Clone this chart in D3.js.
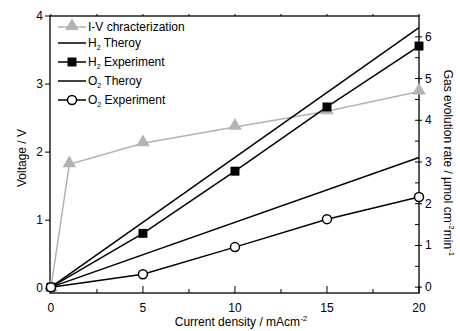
<!DOCTYPE html>
<html>
<head>
<meta charset="utf-8">
<script src="https://cdn.jsdelivr.net/npm/d3@7"></script>
<style>
  body { margin: 0; background: #fff; }
  svg { font-family: "Liberation Sans", Arial, sans-serif; }
</style>
</head>
<body>
<div id="chart"></div>
<script>
// data
var ivCurrent = [0, 1, 5, 10, 15, 20];
var ivVoltage = [0, 1.82, 2.13, 2.37, 2.6, 2.89];
var theoryCurrent = [0, 20];
var h2Theory = [0, 6.22];
var o2Theory = [0, 3.11];
var expCurrent = [0, 5, 10, 15, 20];
var h2Exp = [0, 1.29, 2.78, 4.32, 5.78];
var o2Exp = [0, 0.31, 0.96, 1.63, 2.16];
var xTicks = [0, 5, 10, 15, 20];
var leftTicks = [0, 1, 2, 3, 4];
var rightTicks = [0, 1, 2, 3, 4, 5, 6];

var width = 460, height = 331;
var plot = { left: 50, right: 419, top: 16, bottom: 293 };

var svg = d3.select("#chart").append("svg")
  .attr("width", width)
  .attr("height", height);

var x = d3.scaleLinear().domain([-0.05, 20]).range([plot.left, plot.right]);
var yL = d3.scaleLinear().domain([-0.07, 4]).range([plot.bottom, plot.top]);
var yR = d3.scaleLinear().domain([-0.14, 6.5]).range([plot.bottom, plot.top]);

var grey = "#b3b3b3";

// frame
svg.append("rect")
  .attr("x", plot.left).attr("y", plot.top)
  .attr("width", plot.right - plot.left).attr("height", plot.bottom - plot.top)
  .attr("fill", "none").attr("stroke", "#000").attr("stroke-width", 1.3);

// bottom axis (ticks inward)
var xMinor = d3.range(0, 20.01, 2.5);
svg.selectAll(".xtick").data(xMinor).enter().append("line")
  .attr("x1", d => x(d)).attr("x2", d => x(d))
  .attr("y1", plot.bottom).attr("y2", d => plot.bottom - (d % 5 === 0 ? 7 : 4))
  .attr("stroke", "#000").attr("stroke-width", 1);
svg.selectAll(".ttick").data(xMinor).enter().append("line")
  .attr("x1", d => x(d)).attr("x2", d => x(d))
  .attr("y1", plot.top).attr("y2", plot.top - 2)
  .attr("stroke", "#000").attr("stroke-width", 1);
svg.selectAll(".xlab").data(xTicks).enter().append("text")
  .attr("x", d => x(d)).attr("y", 312)
  .attr("text-anchor", "middle").attr("font-size", 12)
  .text(d => d);

// left axis
svg.selectAll(".ltick").data(leftTicks).enter().append("line")
  .attr("x1", plot.left - 5).attr("x2", plot.left)
  .attr("y1", d => yL(d)).attr("y2", d => yL(d))
  .attr("stroke", "#000").attr("stroke-width", 1);
svg.selectAll(".llab").data(leftTicks).enter().append("text")
  .attr("x", plot.left - 7).attr("y", d => yL(d) + 4)
  .attr("text-anchor", "end").attr("font-size", 12)
  .text(d => d);

// right axis
var rMinor = d3.range(0, 6.01, 0.5);
svg.selectAll(".rtick").data(rMinor).enter().append("line")
  .attr("x1", plot.right - 4)
  .attr("x2", d => d % 1 === 0 ? plot.right + 3 : plot.right)
  .attr("y1", d => yR(d)).attr("y2", d => yR(d))
  .attr("stroke", "#000").attr("stroke-width", 1);
svg.selectAll(".rlab").data(rightTicks).enter().append("text")
  .attr("x", plot.right + 6).attr("y", d => yR(d) + 4)
  .attr("font-size", 12)
  .text(d => d);

// axis titles
svg.append("text")
  .attr("transform", "translate(26,158) rotate(-90)")
  .attr("text-anchor", "middle").attr("font-size", 12)
  .text("Voltage / V");

var rt = svg.append("text")
  .attr("transform", "translate(444,163) rotate(90)")
  .attr("text-anchor", "middle").attr("font-size", 12);
rt.append("tspan").text("Gas evolution rate / \u00b5mol cm");
rt.append("tspan").attr("font-size", 8).attr("dy", -5).text("-2");
rt.append("tspan").attr("font-size", 12).attr("dy", 5).text("min");
rt.append("tspan").attr("font-size", 8).attr("dy", -5).text("-1");

var xt = svg.append("text")
  .attr("x", 241).attr("y", 326)
  .attr("text-anchor", "middle").attr("font-size", 12);
xt.append("tspan").text("Current density / mAcm");
xt.append("tspan").attr("font-size", 8).attr("dy", -5).text("-2");

// series
var lineIV = d3.line().x(d => x(d[0])).y(d => yL(d[1]));
var lineR = d3.line().x(d => x(d[0])).y(d => yR(d[1]));
var tri = d3.symbol().type(d3.symbolTriangle).size(80);
var sq = d3.symbol().type(d3.symbolSquare).size(80);

var ivData = d3.zip(ivCurrent, ivVoltage);
svg.append("path").datum(ivData).attr("d", lineIV)
  .attr("fill", "none").attr("stroke", grey).attr("stroke-width", 1.5);
svg.selectAll(".iv").data(ivData).enter().append("path")
  .attr("d", tri)
  .attr("transform", d => "translate(" + x(d[0]) + "," + (yL(d[1]) - 1) + ")")
  .attr("fill", grey);

svg.append("path").datum(d3.zip(theoryCurrent, h2Theory)).attr("d", lineR)
  .attr("fill", "none").attr("stroke", "#000").attr("stroke-width", 1.5);

var h2Data = d3.zip(expCurrent, h2Exp);
svg.append("path").datum(h2Data).attr("d", lineR)
  .attr("fill", "none").attr("stroke", "#000").attr("stroke-width", 1.5);
svg.selectAll(".h2").data(h2Data).enter().append("path")
  .attr("d", sq)
  .attr("transform", d => "translate(" + x(d[0]) + "," + yR(d[1]) + ")")
  .attr("fill", "#000");

svg.append("path").datum(d3.zip(theoryCurrent, o2Theory)).attr("d", lineR)
  .attr("fill", "none").attr("stroke", "#000").attr("stroke-width", 1.5);

var o2Data = d3.zip(expCurrent, o2Exp);
svg.append("path").datum(o2Data).attr("d", lineR)
  .attr("fill", "none").attr("stroke", "#000").attr("stroke-width", 1.5);
svg.selectAll(".o2").data(o2Data).enter().append("circle")
  .attr("cx", d => x(d[0])).attr("cy", d => yR(d[1])).attr("r", 4.5)
  .attr("fill", "#fff").attr("stroke", "#000").attr("stroke-width", 1.5);

// legend
var legendItems = [
  { label: "I-V chracterization", sub: null, rest: "", color: grey, marker: "tri" },
  { label: "H", sub: "2", rest: " Theroy", color: "#000", marker: null },
  { label: "H", sub: "2", rest: " Experiment", color: "#000", marker: "sq" },
  { label: "O", sub: "2", rest: " Theroy", color: "#000", marker: null },
  { label: "O", sub: "2", rest: " Experiment", color: "#000", marker: "circ" }
];
var legendY = [27, 43, 62, 81, 100];
var lg = svg.selectAll(".leg").data(legendItems).enter().append("g")
  .attr("transform", (d, i) => "translate(58," + legendY[i] + ")");
lg.append("line").attr("x1", 0).attr("x2", 28)
  .attr("stroke", d => d.color).attr("stroke-width", 1.5);
lg.filter(d => d.marker === "tri").append("path")
  .attr("d", tri).attr("transform", "translate(14,-1)").attr("fill", grey);
lg.filter(d => d.marker === "sq").append("path")
  .attr("d", sq).attr("transform", "translate(14,0)").attr("fill", "#000");
lg.filter(d => d.marker === "circ").append("circle")
  .attr("cx", 14).attr("r", 4.5).attr("fill", "#fff")
  .attr("stroke", "#000").attr("stroke-width", 1.5);
var lt = lg.append("text").attr("x", 30).attr("y", 4).attr("font-size", 12);
lt.append("tspan").text(d => d.label);
lt.filter(d => d.sub).append("tspan").attr("font-size", 7).attr("dy", 3).text(d => d.sub);
lt.filter(d => d.sub).append("tspan").attr("dy", -3).text(d => d.rest);
</script>
</body>
</html>
